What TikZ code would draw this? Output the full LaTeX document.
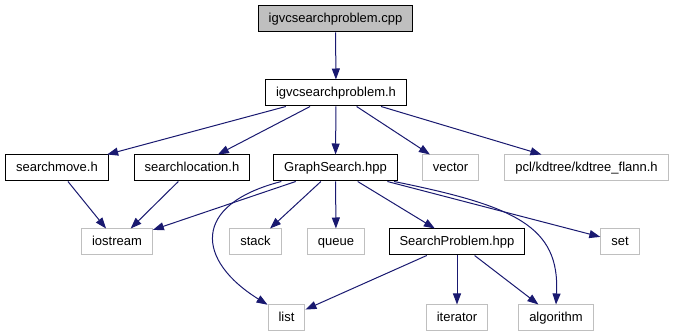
\documentclass[tikz,border=0pt]{standalone}
\usepackage{fontspec}
\setmainfont{Liberation Sans}
\usepackage{xcolor}
\definecolor{edge_blue}{RGB}{25,25,112}
\definecolor{box_gray}{RGB}{191,191,191}
\usepackage{tikz}
\usetikzlibrary{arrows.meta}

\tikzset{
  filebox/.style = {draw = black, line width = 1pt, inner xsep = 10.5pt, minimum height = 26pt,
    font = \fontsize{13}{15}\selectfont, text height = 9.5pt, text depth = 2.8pt},
  sysbox/.style = {filebox, draw = box_gray},
  dep/.style = {line width = 1pt, draw = edge_blue, -{Triangle[length = 11pt, width = 8pt]}}
}

\begin{document}
\begin{tikzpicture}[x = 1pt, y = -1pt]
\useasboundingbox (0, 0) rectangle (673, 336);

\node [filebox, fill = box_gray] (cpp) at (335.5, 19) {igvcsearchproblem.cpp};
\node [filebox] (igvch) at (336, 93) {igvcsearchproblem.h};

\node [filebox] (searchmove) at (57, 168) {searchmove.h};
\node [filebox] (searchlocation) at (192, 168) {searchlocation.h};
\node [filebox] (graphsearch) at (335.5, 168) {GraphSearch.hpp};
\node [sysbox] (vector) at (450.5, 168) {vector};
\node [sysbox] (kdtree) at (586.5, 168) {pcl/kdtree/kdtree\_flann.h};

\node [sysbox] (iostream) at (117, 242) {iostream};
\node [sysbox] (stack) at (255.5, 242) {stack};
\node [sysbox] (queue) at (336, 242) {queue};
\node [filebox] (searchproblem) at (457, 242) {SearchProblem.hpp};
\node [sysbox] (set) at (620, 242) {set};

\node [sysbox] (list) at (286.5, 318) {list};
\node [sysbox] (iterator) at (457, 318) {iterator};
\node [sysbox] (algorithm) at (556, 318) {algorithm};

\draw [dep] (cpp) -- (igvch);

\draw [dep] (igvch) -- (searchmove);
\draw [dep] (igvch) -- (searchlocation);
\draw [dep] (igvch) -- (graphsearch);
\draw [dep] (igvch) -- (vector);
\draw [dep] (igvch) -- (kdtree);

\draw [dep] (searchmove) -- (iostream);
\draw [dep] (searchlocation) -- (iostream);

\draw [dep] (graphsearch) -- (iostream);
\draw [dep] (graphsearch) -- (stack);
\draw [dep] (graphsearch) -- (queue);
\draw [dep] (graphsearch) -- (searchproblem);
\draw [dep] (graphsearch) -- (set);
% the two long ones bend round the middle row
\draw [dep] (graphsearch.194) .. controls (190, 205) and (197, 261) .. (list.145);
\draw [dep] (graphsearch.-13) .. controls (515, 206) and (560, 226) .. (algorithm.north);

\draw [dep] (searchproblem) -- (list);
\draw [dep] (searchproblem) -- (iterator);
\draw [dep] (searchproblem) -- (algorithm);

\end{tikzpicture}
\end{document}
